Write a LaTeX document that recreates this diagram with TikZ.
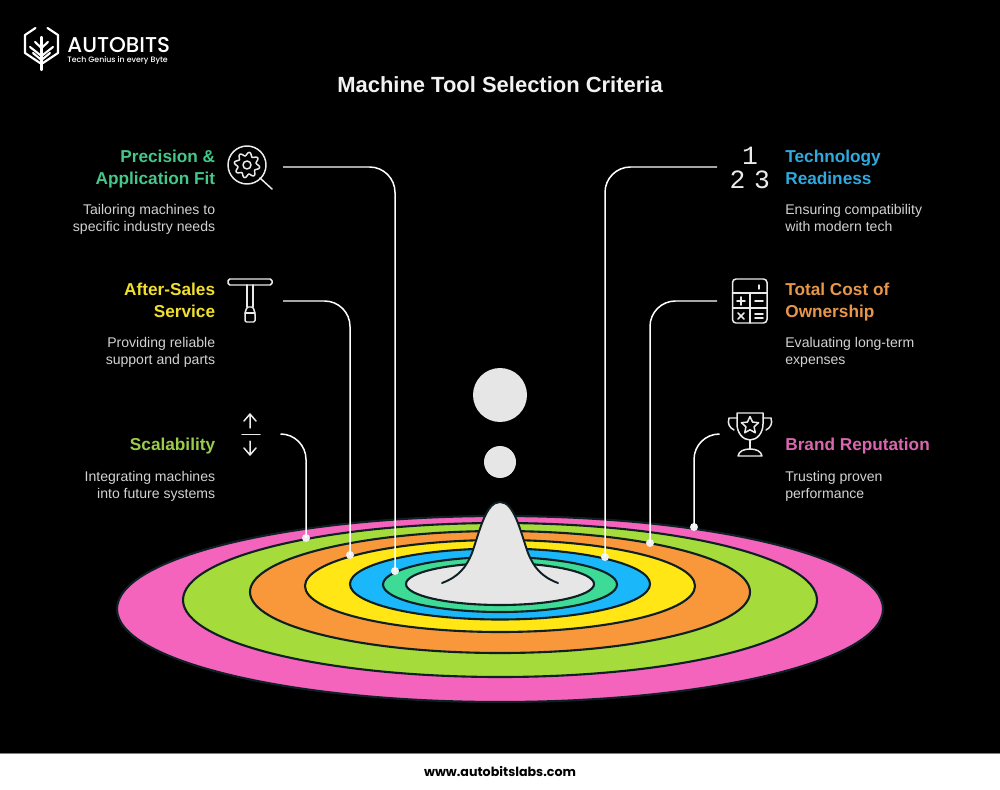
\documentclass[tikz,border=0pt]{standalone}
\usepackage{fontspec}
\setmainfont{Liberation Sans}
\newfontfamily\pop{Poppins}
\newfontfamily\popm{Poppins Medium}
\newfontfamily\mono{Liberation Mono}
\usetikzlibrary{shapes.geometric}
\definecolor{ringline}{HTML}{0F2024}
\definecolor{cpink}{HTML}{F564BC}
\definecolor{cgreen}{HTML}{A5DB3A}
\definecolor{corange}{HTML}{F8983A}
\definecolor{cyellow}{HTML}{FFE614}
\definecolor{cblue}{HTML}{1AB8FA}
\definecolor{cteal}{HTML}{3DDB96}
\definecolor{cgrey}{HTML}{E6E6E6}
\definecolor{tteal}{HTML}{45C78A}
\definecolor{tyellow}{HTML}{F0DE30}
\definecolor{tgreen}{HTML}{9CCB4A}
\definecolor{tblue}{HTML}{2FA9DE}
\definecolor{torange}{HTML}{E8964A}
\definecolor{tpink}{HTML}{D966AE}
\definecolor{desc}{HTML}{D2D2D2}
\tikzset{
  ring/.style={draw=ringline,line width=1.2pt},
  conn/.style={draw=white,line width=0.85pt,rounded corners=14.5pt},
  dotnode/.style={circle,fill=white!94!black,inner sep=0pt,minimum size=0.16cm},
  icon/.style={draw=white!92!black,line width=0.85pt,line join=round,line cap=round},
  headL/.style={anchor=north east,align=right,inner sep=0pt,font=\fontsize{9.8}{12.5}\selectfont\bfseries},
  headR/.style={anchor=north west,align=left,inner sep=0pt,font=\fontsize{9.8}{12.5}\selectfont\bfseries},
  descL/.style={anchor=north east,align=right,inner sep=0pt,text=desc,font=\fontsize{8}{9.6}\selectfont},
  descR/.style={anchor=north west,align=left,inner sep=0pt,text=desc,font=\fontsize{8}{9.6}\selectfont},
  logo/.style={draw=white,line width=1.2pt,line cap=round,line join=round}
}
\begin{document}
\begin{tikzpicture}[x=0.02cm,y=-0.02cm]
\useasboundingbox (0,0) rectangle (1000,790);
\fill[black] (0,0) rectangle (1000,790);
% footer
\fill[white] (0,753) rectangle (1000,790);
\draw[gray,line width=0.5pt] (0,753) -- (1000,753);
\node[font=\pop\fontsize{7.2}{9}\selectfont\bfseries,text=black] (footer) at (500,771) {www.autobitslabs.com};
% title
\node[font=\fontsize{12.5}{15}\selectfont\bfseries,text=white!95!black] (title) at (500,85) {Machine Tool Selection Criteria};
% logo
\draw[logo] (35.5,28) -- (25,35) -- (25,53) -- (40,63);
\draw[logo] (47.5,28) -- (58,35) -- (58,53) -- (43,63);
\draw[logo] (41.5,37) -- (41.5,70);
\draw[logo] (30,47) -- (41.5,56);
\draw[logo] (53,47) -- (41.5,56);
\draw[logo] (35,42) -- (41.5,48);
\draw[logo] (48,42) -- (41.5,48);
\draw[logo] (33,53) -- (41.5,60);
\draw[logo] (50,53) -- (41.5,60);
\node[anchor=base west,inner sep=0pt,text=white,font=\popm\fontsize{12.2}{14}\selectfont] (brand) at (67,53) {AUTOBITS};
\node[anchor=base west,inner sep=0pt,text=white,font=\popm\fontsize{4.45}{6}\selectfont] (tag) at (67,63) {Tech Genius in every Byte};
% rings
\path[ring,fill=cpink] (500,609) ellipse [x radius=383,y radius=93];
\path[ring,fill=cgreen] (500,600) ellipse [x radius=317,y radius=77];
\path[ring,fill=corange] (500,592) ellipse [x radius=250,y radius=61];
\path[ring,fill=cyellow] (500,586) ellipse [x radius=195,y radius=46];
\path[ring,fill=cblue] (500,584) ellipse [x radius=150,y radius=35.5];
\path[ring,fill=cteal] (500,584.5) ellipse [x radius=117,y radius=27.5];
\path[ring,fill=cgrey] (500,584) ellipse [x radius=94,y radius=21];
% peak
\fill[cgrey] (442,583) .. controls (458,577) and (466,568) .. (472,553) .. controls (480,530) and (486,502) .. (500,502) .. controls (514,502) and (520,530) .. (528,553) .. controls (534,568) and (542,577) .. (558,583) -- cycle;
\draw[ringline,line width=1.1pt,line cap=round] (442,583) .. controls (458,577) and (466,568) .. (472,553) .. controls (480,530) and (486,502) .. (500,502) .. controls (514,502) and (520,530) .. (528,553) .. controls (534,568) and (542,577) .. (558,583);
% drops
\node[circle,fill=cgrey,inner sep=0pt,minimum size=1.08cm] (drop1) at (500,395) {};
\node[circle,fill=cgrey,inner sep=0pt,minimum size=0.64cm] (drop2) at (500,462) {};
% connectors
\coordinate (sl1) at (283,167); \coordinate (sl2) at (283,301); \coordinate (sl3) at (283,434);
\coordinate (sr1) at (717,167); \coordinate (sr2) at (717,301); \coordinate (sr3) at (717,434);
\node[dotnode] (dl1) at (395,571) {};
\node[dotnode] (dl2) at (350,555) {};
\node[dotnode] (dl3) at (306,538) {};
\node[dotnode] (dr1) at (605,557) {};
\node[dotnode] (dr2) at (650,543) {};
\node[dotnode] (dr3) at (694,527) {};
\draw[conn] (sl1) -| (dl1.center);
\draw[conn] (sl2) -| (dl2.center);
\draw[conn] (sl3) -| (dl3.center);
\draw[conn] (sr1) -| (dr1.center);
\draw[conn] (sr2) -| (dr2.center);
\draw[conn] (sr3) -| (dr3.center);
% left texts
\node[headL,text=tteal] (h1) at (215.5,150) {Precision \&\\Application Fit};
\node[descL] (d1) at (215.5,204) {Tailoring machines to\\specific industry needs};
\node[headL,text=tyellow] (h2) at (215.5,283) {After-Sales\\Service};
\node[descL] (d2) at (215.5,337) {Providing reliable\\support and parts};
\node[headL,text=tgreen] (h3) at (215.5,438) {Scalability};
\node[descL] (d3) at (215.5,471) {Integrating machines\\into future systems};
% right texts
\node[headR,text=tblue] (h4) at (785,150) {Technology\\Readiness};
\node[descR] (d4) at (785,204) {Ensuring compatibility\\with modern tech};
\node[headR,text=torange] (h5) at (785,283) {Total Cost of\\Ownership};
\node[descR] (d5) at (785,337) {Evaluating long-term\\expenses};
\node[headR,text=tpink] (h6) at (785,438) {Brand Reputation};
\node[descR] (d6) at (785,471) {Trusting proven\\performance};
% icon: gear and lens
\draw[icon] (247,165) circle [radius=19];
\draw[icon] (260,178) -- (272,189);
\draw[icon] (247,165) circle [radius=4];
\draw[icon] plot[domain=0:360,samples=145] ({247+(11+1.8*sin(8*\x))*cos(\x)},{165+(11+1.8*sin(8*\x))*sin(\x)}) -- cycle;
% icon: T wrench
\draw[icon,rounded corners=1pt] (228,279) rectangle (272,285);
\draw[icon] (247,285) -- (247,307) (253,285) -- (253,307);
\draw[icon,rounded corners=0.8pt] (247,307) -- (245,313) -- (245,322) -- (255,322) -- (255,313) -- (253,307) -- cycle;
\draw[icon] (245,313) -- (255,313);
% icon: arrows
\draw[icon] (250,414) -- (250,428) (244,421) -- (250,414) -- (256,421);
\draw[icon] (242,434.5) -- (260,434.5);
\draw[icon] (250,441) -- (250,455) (244,448) -- (250,455) -- (256,448);
% icon: 1 2 3
\node[inner sep=0pt,text=white!92!black,font=\mono\fontsize{15}{16}\selectfont] (n1) at (750,156) {1};
\node[inner sep=0pt,text=white!92!black,font=\mono\fontsize{15}{16}\selectfont] (n2) at (737.5,180) {2};
\node[inner sep=0pt,text=white!92!black,font=\mono\fontsize{15}{16}\selectfont] (n3) at (762,180) {3};
% icon: calculator
\draw[icon,rounded corners=2pt] (732.5,279) rectangle (767,323);
\draw[icon] (732.5,293) -- (767,293) (750,293) -- (750,323) (732.5,308) -- (767,308);
\draw[icon] (759,285) -- (759,289);
\draw[icon,line width=0.9pt] (737,301) -- (745,301) (741,297) -- (741,305);
\draw[icon,line width=0.9pt] (755,301) -- (763,301);
\draw[icon,line width=0.9pt] (738,313) -- (744,319) (744,313) -- (738,319);
\draw[icon,line width=0.9pt] (755,314) -- (763,314) (755,318) -- (763,318);
% icon: trophy
\draw[icon] (737,413) -- (763,413) -- (763,424) .. controls (763,433) and (757,440) .. (750,440) .. controls (743,440) and (737,433) .. (737,424) -- cycle;
\draw[icon] (737,418) -- (729,418) .. controls (727,424) and (730,428) .. (734,430);
\draw[icon] (763,418) -- (771,418) .. controls (773,424) and (770,428) .. (766,430);
\draw[icon] (750,440) -- (750,449);
\draw[icon] (738,456) .. controls (739,451) and (744,449) .. (750,449) .. controls (756,449) and (761,451) .. (762,456) -- cycle;
\node[icon,star,star points=5,star point ratio=2.1,inner sep=0pt,minimum size=0.36cm] (starn) at (750,425.5) {};
\end{tikzpicture}
\end{document}
